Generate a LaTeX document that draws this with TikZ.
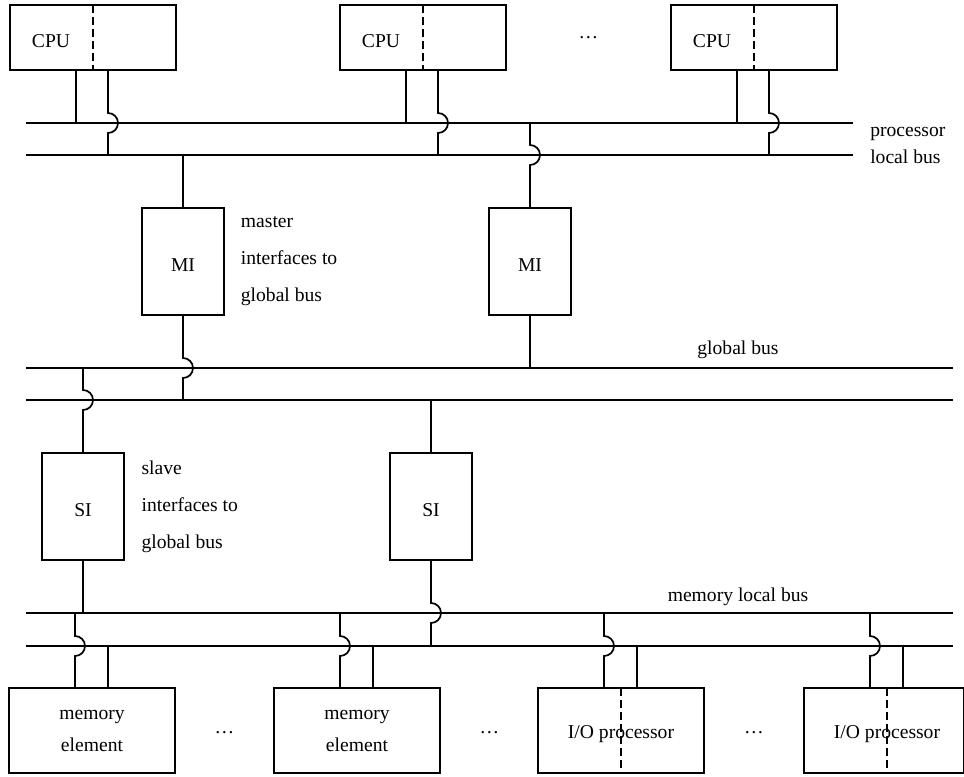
\documentclass[tikz,border=0pt]{standalone}
\usepackage{fontspec}
\setmainfont{Liberation Serif}
\usetikzlibrary{positioning, calc}

\begin{document}
\begin{tikzpicture}[x=0.75pt, y=0.75pt,
  unitbox/.style={draw, line width=1.4pt, inner sep=0pt, outer sep=0pt,
    minimum width=124.5pt, align=center, font=\fontsize{14.7}{24}\selectfont},
  cpubox/.style={unitbox, minimum height=48.75pt},
  devbox/.style={unitbox, minimum height=63.75pt},
  iface/.style={draw, line width=1.4pt, inner sep=0pt, outer sep=0pt,
    minimum width=61.5pt, minimum height=80.25pt, text height=15.5pt,
    font=\fontsize{14.7}{24}\selectfont},
  txt/.style={inner sep=0pt, font=\fontsize{14.7}{24}\selectfont},
  note/.style={align=left, inner sep=0pt, font=\fontsize{14.7}{27.75}\selectfont},
  bus/.style={line width=1.4pt},
  wire/.style={line width=1.3pt},
  split/.style={line width=1pt, dash pattern=on 6pt off 3pt}
]
  \useasboundingbox (0,0) rectangle (964,-776);

  % buses
  \coordinate (pbA-w) at (26,-123);  \coordinate (pbA-e) at (853,-123);
  \coordinate (pbB-w) at (26,-155);  \coordinate (pbB-e) at (853,-155);
  \coordinate (gbA-w) at (26,-368);  \coordinate (gbA-e) at (953,-368);
  \coordinate (gbB-w) at (26,-400);  \coordinate (gbB-e) at (953,-400);
  \coordinate (mbA-w) at (26,-613);  \coordinate (mbA-e) at (953,-613);
  \coordinate (mbB-w) at (26,-646);  \coordinate (mbB-e) at (953,-646);
  \foreach \b in {pbA,pbB,gbA,gbB,mbA,mbB}
    \draw[bus] (\b-w) -- (\b-e);

  % processors
  \node[cpubox] (cpu1) at (93,-37.5) {};
  \node[cpubox] (cpu2) at (423,-37.5) {};
  \node[cpubox] (cpu3) at (754,-37.5) {};
  \foreach \n in {1,2,3} {
    \node[txt] (cpu\n-t) at ($(cpu\n.center)+(-42,-3.5)$) {CPU};
    \draw[split] (cpu\n.north) -- (cpu\n.south);
    \coordinate (cpu\n-a) at ($(cpu\n.south west)+(66,0)$);
    \coordinate (cpu\n-b) at ($(cpu\n.south west)+(98,0)$);
    \draw[wire] (cpu\n-a) -- (cpu\n-a |- pbA-w);
    \draw[wire] (cpu\n-b) -- ($(cpu\n-b |- pbA-w)+(0,10)$)
      arc[start angle=90, end angle=-90, radius=10] -- (cpu\n-b |- pbB-w);
  }
  \node[txt, anchor=base] (dots-top) at (588.5,-38) {\dots};
  \node[note, anchor=west, font=\fontsize{14.7}{20.25}\selectfont] (pb-label)
    at (870,-145) {processor\\local bus};

  % master interfaces
  \node[iface] (mi1) at (183,-261.5) {MI};
  \node[iface] (mi2) at (530,-261.5) {MI};
  \node[note, right=12.5pt of mi1] (mi-label) {master\\interfaces to\\global bus};
  \draw[wire] (mi1.north |- pbB-w) -- (mi1.north);
  \draw[wire] (mi1.south) -- ($(mi1.south |- gbA-w)+(0,10)$)
    arc[start angle=90, end angle=-90, radius=10] -- (mi1.south |- gbB-w);
  \draw[wire] (mi2.north |- pbA-w) -- ($(mi2.north |- pbB-w)+(0,10)$)
    arc[start angle=90, end angle=-90, radius=10] -- (mi2.north);
  \draw[wire] (mi2.south) -- (mi2.south |- gbA-w);
  \node[txt] (gb-label) at (738,-350) {global bus};

  % slave interfaces
  \node[iface] (si1) at (83,-506.5) {SI};
  \node[iface] (si2) at (431,-506.5) {SI};
  \node[note, right=13pt of si1] (si-label) {slave\\interfaces to\\global bus};
  \draw[wire] (si1.north |- gbA-w) -- ($(si1.north |- gbB-w)+(0,10)$)
    arc[start angle=90, end angle=-90, radius=10] -- (si1.north);
  \draw[wire] (si1.south) -- (si1.south |- mbA-w);
  \draw[wire] (si2.north |- gbB-w) -- (si2.north);
  \draw[wire] (si2.south) -- ($(si2.south |- mbA-w)+(0,10)$)
    arc[start angle=90, end angle=-90, radius=10] -- (si2.south |- mbB-w);
  \node[txt] (mb-label) at (738,-597) {memory local bus};

  % memory and I/O
  \node[devbox] (mem1) at (92,-730.5) {memory\\element};
  \node[devbox] (mem2) at (357,-730.5) {memory\\element};
  \node[devbox] (io1) at (621,-730.5) {};
  \node[devbox, minimum width=120pt] (io2) at (884,-730.5) {};
  \foreach \d in {io1,io2} {
    \coordinate (\d-c) at ($(\d.north west)+(83,0)$);
    \node[txt] (\d-t) at ($(\d.north west)+(83,-46)$) {I/O processor};
    \draw[split] (\d-c) -- (\d-c |- \d.south);
  }
  \foreach \d in {mem1,mem2,io1,io2} {
    \coordinate (\d-a) at ($(\d.north west)+(66,0)$);
    \coordinate (\d-b) at ($(\d.north west)+(99,0)$);
    \draw[wire] (\d-a |- mbA-w) -- ($(\d-a |- mbB-w)+(0,10)$)
      arc[start angle=90, end angle=-90, radius=10] -- (\d-a);
    \draw[wire] (\d-b |- mbB-w) -- (\d-b);
  }
  \node[txt, anchor=base] (dots-m) at (224.5,-733) {\dots};
  \node[txt, anchor=base] (dots-mi) at (489.5,-733) {\dots};
  \node[txt, anchor=base] (dots-io) at (754,-733) {\dots};
\end{tikzpicture}
\end{document}
